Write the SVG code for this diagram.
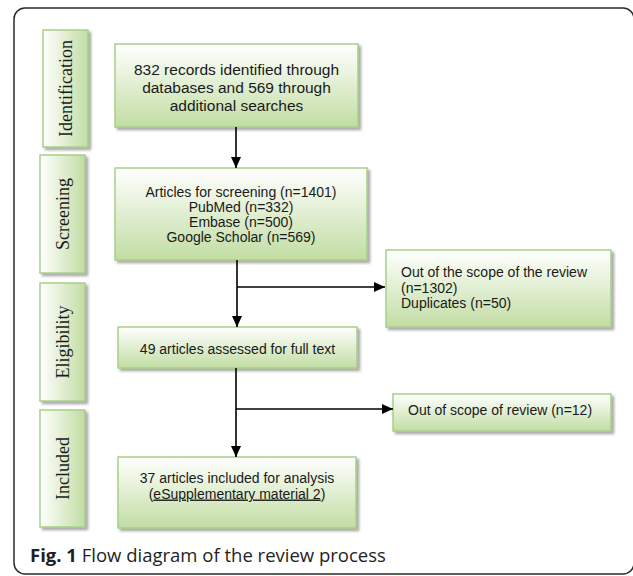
<svg xmlns="http://www.w3.org/2000/svg" width="633" height="576" viewBox="0 0 633 576">
<style>
.box{fill:url(#gv);stroke:#a6cf88;stroke-width:1.5;filter:url(#sh)}
.stage{fill:url(#gh);stroke:#a6cf88;stroke-width:1.5;filter:url(#sh)}
.t{font-family:"Liberation Sans",Arial,sans-serif;font-size:14px;fill:#1a1a1a}
.t1{font-size:15.5px}
.c{text-anchor:middle}
.st{font-family:"Liberation Serif","Times New Roman",serif;font-size:18px;fill:#1a1a1a;text-anchor:middle;dominant-baseline:central}
.ln{stroke:#000;stroke-width:1.6;fill:none}
.cap{font-family:"Open Sans",sans-serif;font-size:18.5px;fill:#231f20}
</style>
<defs>
<linearGradient id="gv" x1="0" y1="0" x2="0" y2="1">
<stop offset="0" stop-color="#ffffff"/>
<stop offset="1" stop-color="#c2dda3"/>
</linearGradient>
<linearGradient id="gh" x1="0" y1="0" x2="1" y2="0">
<stop offset="0" stop-color="#ffffff"/>
<stop offset="1" stop-color="#c2dda3"/>
</linearGradient>
<filter id="sh" x="-10%" y="-10%" width="130%" height="130%">
<feDropShadow dx="2.5" dy="2.5" stdDeviation="0.8" flood-color="#666" flood-opacity="0.55"/>
</filter>
<marker id="ah" markerUnits="userSpaceOnUse" markerWidth="11" markerHeight="10" refX="11" refY="5" orient="auto">
<path d="M0,0 L11,5 L0,10 z" fill="#000"/>
</marker>
</defs>
<rect x="14" y="8" width="620" height="566" rx="11" fill="none" stroke="#2b2b2b" stroke-width="1.5"/>

<g id="stage-identification">
<rect class="stage" x="43" y="30" width="45" height="117"/>
<text class="st" transform="translate(65.5,88.5) rotate(-90)">Identification</text>
</g>
<g id="stage-screening">
<rect class="stage" x="40" y="155" width="45" height="118"/>
<text class="st" transform="translate(62.5,214) rotate(-90)">Screening</text>
</g>
<g id="stage-eligibility">
<rect class="stage" x="40" y="283" width="45" height="118"/>
<text class="st" transform="translate(62.5,342) rotate(-90)">Eligibility</text>
</g>
<g id="stage-included">
<rect class="stage" x="40" y="410" width="45" height="117"/>
<text class="st" transform="translate(62.5,468.5) rotate(-90)">Included</text>
</g>

<g id="records">
<rect class="box" x="115" y="44" width="243" height="83"/>
<text class="t t1 c" x="236.5" y="75">832 records identified through</text>
<text class="t t1 c" x="236.5" y="93">databases and 569 through</text>
<text class="t t1 c" x="236.5" y="111">additional searches</text>
</g>
<g id="screening">
<rect class="box" x="115" y="168" width="252" height="92"/>
<text class="t c" x="241" y="197">Articles for screening (n=1401)</text>
<text class="t c" x="241" y="212">PubMed (n=332)</text>
<text class="t c" x="241" y="227">Embase (n=500)</text>
<text class="t c" x="241" y="242">Google Scholar (n=569)</text>
</g>
<g id="excluded1">
<rect class="box" x="386" y="250" width="225" height="77"/>
<text class="t" x="401" y="277">Out of the scope of the review</text>
<text class="t" x="401" y="292.5">(n=1302)</text>
<text class="t" x="401" y="308">Duplicates (n=50)</text>
</g>
<g id="fulltext">
<rect class="box" x="118" y="327" width="239" height="41"/>
<text class="t c" x="237.5" y="354">49 articles assessed for full text</text>
</g>
<g id="excluded2">
<rect class="box" x="393" y="394" width="218" height="37"/>
<text class="t" x="408" y="415">Out of scope of review (n=12)</text>
</g>
<g id="included">
<rect class="box" x="118" y="457" width="238" height="71"/>
<text class="t c" x="237" y="483">37 articles included for analysis</text>
<text class="t c" x="237" y="498.5">(<tspan text-decoration="underline">eSupplementary material 2</tspan>)</text>
</g>

<g id="connectors">
<line class="ln" x1="236" y1="127" x2="236" y2="168" marker-end="url(#ah)"/>
<line class="ln" x1="237" y1="260" x2="237" y2="327" marker-end="url(#ah)"/>
<line class="ln" x1="237" y1="287" x2="385" y2="287" marker-end="url(#ah)"/>
<line class="ln" x1="236" y1="368" x2="236" y2="457" marker-end="url(#ah)"/>
<line class="ln" x1="236" y1="409" x2="393" y2="409" marker-end="url(#ah)"/>
</g>

<text class="cap" x="30" y="562"><tspan font-weight="bold">Fig. 1</tspan> Flow diagram of the review process</text>
</svg>
